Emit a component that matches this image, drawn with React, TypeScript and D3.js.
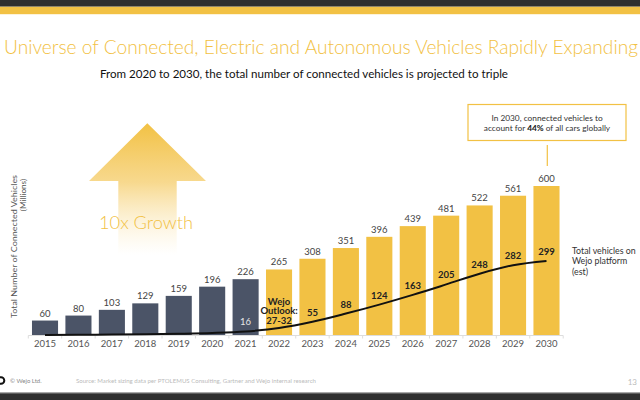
import React from "react";
import * as d3 from "d3";

const years = ["2015","2016","2017","2018","2019","2020","2021","2022","2023","2024","2025","2026","2027","2028","2029","2030"];
const totalVehicles = [60,80,103,129,159,196,226,265,308,351,396,439,481,522,561,600];
const wejoPlatform = [2,3,4,5,7,10,16,30,55,88,124,163,205,248,282,299];
const lineLabelYears = ["2023","2024","2025","2026","2027","2028","2029","2030"];
const historicalYears = ["2015","2016","2017","2018","2019","2020","2021"];

const YELLOW = "#F2C144";
const DARK = "#4B5467";
const FONT = "Lato, 'Open Sans', sans-serif";

export default function App() {
  const baseline = 335.5;
  const x = d3.scaleBand<string>().domain(years).range([28.3, 563.2]).paddingInner(0.22).paddingOuter(0.11);
  const y = d3.scaleLinear().domain([0, 600]).range([baseline, 186]);
  const cx = (yr: string) => (x(yr) as number) + x.bandwidth() / 2;

  const line = d3
    .line<number>()
    .x((_, i) => cx(years[i]))
    .y((d) => y(d))
    .curve(d3.curveMonotoneX);

  const boundaries = years.map((yr) => (x(yr) as number) - (x.step() - x.bandwidth()) / 2);
  boundaries.push(563.2);

  return (
    <svg width={640} height={400} style={{ position: "absolute", left: 0, top: 0, background: "#fff" }} fontFamily={FONT}>
      <defs>
        <linearGradient id="arrowGrad" x1="0" y1="123" x2="0" y2="255" gradientUnits="userSpaceOnUse">
          <stop offset="0" stopColor="#F2C143" stopOpacity={1} />
          <stop offset="0.45" stopColor="#F6D27A" stopOpacity={0.85} />
          <stop offset="1" stopColor="#FBEBC0" stopOpacity={0} />
        </linearGradient>
      </defs>
      {/* top bands */}
      <rect x={0} y={0} width={640} height={6} fill="#2f2f2f" />
      <rect x={0} y={6} width={640} height={0.8} fill="#555" />
      <rect x={0} y={6.8} width={640} height={7.4} fill={YELLOW} />

      {/* title */}
      <text x={4} y={54} fontSize={19} fontWeight={300} fill={YELLOW} textLength={634} lengthAdjust="spacingAndGlyphs">
        Universe of Connected, Electric and Autonomous Vehicles Rapidly Expanding
      </text>
      <text x={100} y={78} fontSize={11.5} fontWeight={400} fill="#111" textLength={408} lengthAdjust="spacingAndGlyphs">
        From 2020 to 2030, the total number of connected vehicles is projected to triple
      </text>

      {/* growth arrow */}
      <path d="M147.3,123.3 L206,181 L176.7,181 L176.7,256 L118.3,256 L118.3,181 L89,181 Z" fill="url(#arrowGrad)" />
      <text x={146} y={228.5} fontSize={18.5} fontWeight={300} fill={YELLOW} textAnchor="middle" textLength={94} lengthAdjust="spacingAndGlyphs">
        10x Growth
      </text>

      {/* y-axis title */}
      <text transform="translate(16.5,246.5) rotate(-90)" fontSize={8.2} fill="#555" textAnchor="middle" textLength={143} lengthAdjust="spacingAndGlyphs">
        Total Number of Connected Vehicles
      </text>
      <text transform="translate(25.5,195) rotate(-90)" fontSize={8.2} fill="#555" textAnchor="middle">
        (Millions)
      </text>

      {/* bars */}
      {years.map((yr, i) => (
        <rect
          key={yr}
          x={x(yr)}
          y={y(totalVehicles[i])}
          width={x.bandwidth()}
          height={baseline - y(totalVehicles[i])}
          fill={historicalYears.includes(yr) ? DARK : YELLOW}
        />
      ))}
      {years.map((yr, i) => (
        <text key={"l" + yr} x={cx(yr)} y={y(totalVehicles[i]) - 4} fontSize={9.5} fill="#444" textAnchor="middle">
          {totalVehicles[i]}
        </text>
      ))}

      {/* axis */}
      <line x1={28.3} x2={563.2} y1={baseline} y2={baseline} stroke="#ddd" strokeWidth={1} />
      {boundaries.map((b, i) => (
        <line key={"t" + i} x1={b} x2={b} y1={baseline} y2={baseline + 3} stroke="#ddd" strokeWidth={1} />
      ))}
      {years.map((yr) => (
        <text key={"y" + yr} x={cx(yr)} y={347} fontSize={9.5} fill="#555" textAnchor="middle">
          {yr}
        </text>
      ))}

      {/* wejo line */}
      <path d={line(wejoPlatform) || ""} fill="none" stroke="#111" strokeWidth={2} />
      {years.map((yr, i) =>
        lineLabelYears.includes(yr) ? (
          <text key={"w" + yr} x={cx(yr)} y={y(wejoPlatform[i]) - 6} fontSize={9.5} fontWeight={700} fill="#222" textAnchor="middle">
            {wejoPlatform[i]}
          </text>
        ) : null
      )}
      <text x={cx("2021")} y={325} fontSize={9.5} fill="#e6e6e6" textAnchor="middle">
        {wejoPlatform[years.indexOf("2021")]}
      </text>
      <text x={cx("2022")} fontSize={9.5} fontWeight={700} fill="#222" textAnchor="middle">
        <tspan x={cx("2022")} y={304.5}>Wejo</tspan>
        <tspan x={cx("2022")} y={314}>Outlook:</tspan>
        <tspan x={cx("2022")} y={323.5}>27-32</tspan>
      </text>

      {/* right label */}
      <text fontSize={8.8} fill="#333">
        <tspan x={572} y={253.5}>Total vehicles on</tspan>
        <tspan x={572} y={264}>Wejo platform</tspan>
        <tspan x={572} y={274.5}>(est)</tspan>
      </text>

      {/* annotation */}
      <rect x={468} y={104.5} width={158} height={36} fill="#fff" stroke={YELLOW} strokeWidth={1.2} />
      <text x={547} y={121} fontSize={8.3} fill="#333" textAnchor="middle">
        In 2030, connected vehicles to
      </text>
      <text x={547} y={130.5} fontSize={8.3} fill="#333" textAnchor="middle">
        account for <tspan fontWeight={700} fill="#111">44%</tspan> of all cars globally
      </text>
      <line x1={547.3} x2={547.3} y1={145} y2={166} stroke={YELLOW} strokeWidth={1.2} />

      {/* footer */}
      <circle cx={1} cy={380.5} r={3.3} fill="none" stroke="#111" strokeWidth={2} />
      <text x={10} y={383} fontSize={6} fill="#888">© Wejo Ltd.</text>
      <text x={76} y={383} fontSize={6} fill="#bbb" textLength={240} lengthAdjust="spacingAndGlyphs">
        Source: Market sizing data per PTOLEMUS Consulting, Gartner and Wejo internal research
      </text>
      <text x={637} y={385} fontSize={8} fill="#bbb" textAnchor="end">13</text>
      <rect x={0} y={392.5} width={640} height={0.8} fill="#555" />
      <rect x={0} y={393.3} width={640} height={7} fill="#2f2f2f" />
    </svg>
  );
}
